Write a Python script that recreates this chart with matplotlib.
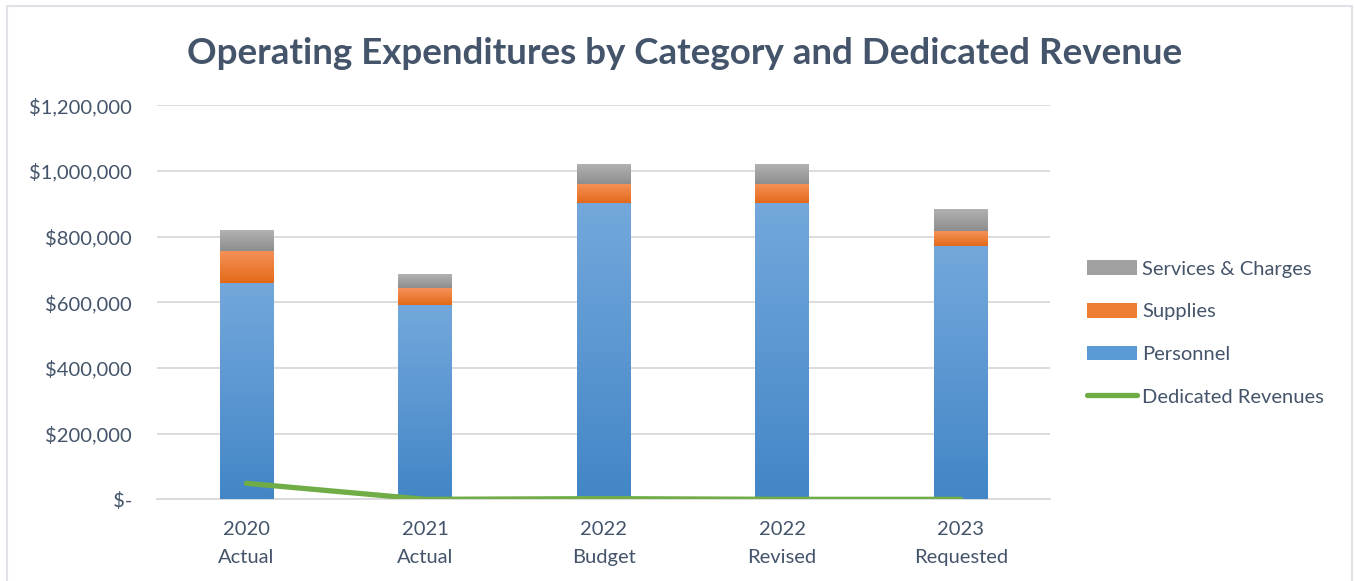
import matplotlib
matplotlib.use("Agg")
import matplotlib.pyplot as plt
import numpy as np
from matplotlib.colors import LinearSegmentedColormap
from matplotlib.patches import Patch, Rectangle
from matplotlib.lines import Line2D
from matplotlib.ticker import FuncFormatter, MultipleLocator

plt.rcParams['font.family'] = ['Lato', 'DejaVu Sans']

categories = ["2020\nActual", "2021\nActual", "2022\nBudget", "2022\nRevised", "2023\nRequested"]
personnel = [658000, 591500, 902000, 902000, 772000]
supplies = [97500, 51700, 58700, 58700, 43800]
services = [63900, 42600, 60000, 60000, 67900]
dedicated_revenues = [48700, 0, 2000, 0, 0]

text_col = "#44546a"
grid_col = "#d9d9d9"

# top/bottom colours of each segment's vertical gradient
grads = {
    "Personnel": ("#74a8dc", "#4286c6"),
    "Supplies": ("#f5925a", "#e36a18"),
    "Services & Charges": ("#b2b2b2", "#8e8e8e"),
}

fig = plt.figure(figsize=(13.54, 5.81), dpi=100)
ax = fig.add_axes([0.116, 0.1406, 0.6595, 0.6784])

x = np.arange(len(categories))
width = 0.3

def gradient_bars(vals, bottoms, name):
    top_c, bot_c = grads[name]
    cmap = LinearSegmentedColormap.from_list(name, [bot_c, top_c])
    bars = ax.bar(x, vals, width, bottom=bottoms, color=bot_c, zorder=2)
    grad = np.linspace(0, 1, 256).reshape(-1, 1)
    for b in bars:
        x0, y0 = b.get_x(), b.get_y()
        im = ax.imshow(grad, cmap=cmap, aspect='auto', origin='lower',
                       extent=[x0, x0 + b.get_width(), y0, y0 + b.get_height()],
                       zorder=3)
        im.set_clip_path(b)

base = np.zeros(len(x))
gradient_bars(personnel, base, "Personnel")
base = base + np.array(personnel)
gradient_bars(supplies, base, "Supplies")
base = base + np.array(supplies)
gradient_bars(services, base, "Services & Charges")

ax.plot(x, dedicated_revenues, color="#70ad47", lw=3.8, solid_capstyle='round', zorder=4)

ax.set_xlim(-0.5, len(x) - 0.5)
ax.set_ylim(0, 1200000)
ax.yaxis.set_major_locator(MultipleLocator(200000))
ax.yaxis.set_major_formatter(FuncFormatter(lambda v, p: " $-" if v == 0 else "${:,.0f}".format(v)))
ax.set_xticks(x)
ax.set_xticklabels(categories, linespacing=1.8)
ax.tick_params(axis='both', length=0, labelsize=14.5, colors=text_col)
ax.tick_params(axis='y', pad=18)
ax.tick_params(axis='x', pad=15.5)
ax.grid(axis='y', color=grid_col, lw=1.3, zorder=0)
ax.set_axisbelow(True)
for s in ["top", "right", "left"]:
    ax.spines[s].set_visible(False)
ax.spines["bottom"].set_color(grid_col)
ax.spines["bottom"].set_linewidth(1.3)

fig.text(0.5055, 0.908, "Operating Expenditures by Category and Dedicated Revenue",
         ha='center', va='center', fontsize=26.5, fontweight='bold', color=text_col)

handles = [
    Patch(facecolor="#a0a0a0", label="Services & Charges"),
    Patch(facecolor="#ed7d31", label="Supplies"),
    Patch(facecolor="#5b9bd5", label="Personnel"),
    Line2D([0], [0], color="#70ad47", lw=3.8, solid_capstyle='round', label="Dedicated Revenues"),
]
leg = fig.legend(handles=handles, loc='center left', bbox_to_anchor=(0.7954, 0.4268),
                 frameon=False, fontsize=14.5, handlelength=2.5, handleheight=0.75,
                 handletextpad=0.25, labelspacing=1.25, borderpad=0)
for t in leg.get_texts():
    t.set_color(text_col)

# chart area border
fig.patches.append(Rectangle((7 / 1354, -0.01), 1345 / 1354, 1 - 6 / 581 + 0.01,
                             transform=fig.transFigure, fill=False,
                             edgecolor="#dfe3e8", lw=1.5))

fig.savefig("out.png", dpi=100)
